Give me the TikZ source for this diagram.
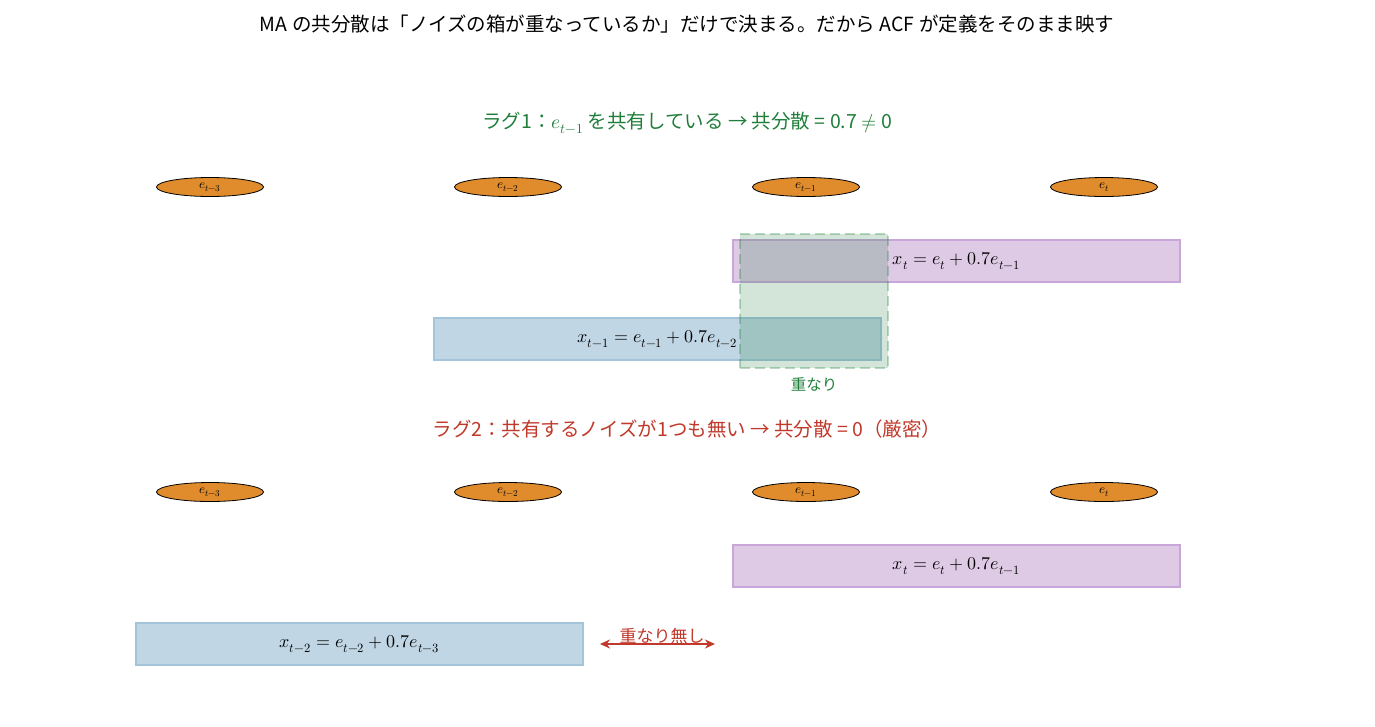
\documentclass[tikz,border=0pt]{standalone}
\usepackage{fontspec}
\usepackage{unicode-math}
\setmainfont{Noto Sans CJK JP}
\setmathfont{Latin Modern Math}
\usetikzlibrary{arrows.meta,shapes.geometric}
\definecolor{noise}{HTML}{E08C2C}
\definecolor{boxpurple}{HTML}{DFCAE6}
\definecolor{edgepurple}{HTML}{C9A6D9}
\definecolor{boxblue}{HTML}{C0D6E4}
\definecolor{edgeblue}{HTML}{A3C4DA}
\definecolor{labgreen}{HTML}{1F7F3A}
\definecolor{labred}{HTML}{C0392B}
\tikzset{
    noisenode/.style={draw,ellipse,fill=noise,thick,minimum width=107pt,minimum height=19pt,inner sep=0pt,font=\fontsize{13}{13}\selectfont},
    purplebox/.style={draw=edgepurple,fill=boxpurple,line width=1.5pt,minimum width=447pt,minimum height=42pt,font=\fontsize{18}{18}\selectfont},
    bluebox/.style={draw=edgeblue,fill=boxblue,line width=1.5pt,minimum width=447pt,minimum height=42pt,font=\fontsize{18}{18}\selectfont}
}
\begin{document}
\begin{tikzpicture}[x=1pt,y=-1pt]
        \useasboundingbox (0,0) rectangle (1375,726);
        \coordinate (e3a) at (210,187);
        \coordinate (e2a) at (508,187);
        \coordinate (e1a) at (806,187);
        \coordinate (e0a) at (1104,187);
        \coordinate (e3b) at (210,492);
        \coordinate (e2b) at (508,492);
        \coordinate (e1b) at (806,492);
        \coordinate (e0b) at (1104,492);

        \node[font=\fontsize{19.5}{20}\selectfont] (Title) at (687,24) {MA の共分散は「ノイズの箱が重なっているか」だけで決まる。だから ACF が定義をそのまま映す};

        % lag 1
        \node[text=labgreen,font=\fontsize{19.5}{20}\selectfont] (LagOne) at (687,123) {ラグ1：$e_{t-1}$ を共有している → 共分散 = 0.7 $\neq$ 0};
        \node[noisenode] (NoiseA3) at (e3a) {$e_{t-3}$};
        \node[noisenode] (NoiseA2) at (e2a) {$e_{t-2}$};
        \node[noisenode] (NoiseA1) at (e1a) {$e_{t-1}$};
        \node[noisenode] (NoiseA0) at (e0a) {$e_{t}$};
        \node[purplebox] (XtA) at (956.5,261) {$x_t = e_t + 0.7e_{t-1}$};
        \node[bluebox] (XtOne) at (657.5,339) {$x_{t-1} = e_{t-1} + 0.7e_{t-2}$};
        \node[draw=labgreen,draw opacity=0.3,fill=labgreen,fill opacity=0.2,dashed,dash pattern=on 10pt off 5pt,line width=2.5pt,minimum width=148pt,minimum height=134pt] (Overlap) at (814,301) {};
        \node[text=labgreen,font=\fontsize{15.5}{16}\selectfont] (OverlapLab) at (814,384) {重なり};

        % lag 2
        \node[text=labred,font=\fontsize{19.5}{20}\selectfont] (LagTwo) at (687,429) {ラグ2：共有するノイズが1つも無い → 共分散 = 0（厳密）};
        \node[noisenode] (NoiseB3) at (e3b) {$e_{t-3}$};
        \node[noisenode] (NoiseB2) at (e2b) {$e_{t-2}$};
        \node[noisenode] (NoiseB1) at (e1b) {$e_{t-1}$};
        \node[noisenode] (NoiseB0) at (e0b) {$e_{t}$};
        \node[purplebox] (XtB) at (956.5,566) {$x_t = e_t + 0.7e_{t-1}$};
        \node[bluebox] (XtTwo) at (359.5,644) {$x_{t-2} = e_{t-2} + 0.7e_{t-3}$};
        \coordinate (gapl) at (600,644);
        \coordinate (gapr) at (715,644);
        \draw[labred,line width=2.5pt,{Stealth[length=10pt,width=9pt]}-{Stealth[length=10pt,width=9pt]}] (gapl) -- (gapr);
        \node[text=labred,font=\fontsize{17}{17}\selectfont] (GapLab) at (662,636) {重なり無し};
    \end{tikzpicture}
\end{document}
